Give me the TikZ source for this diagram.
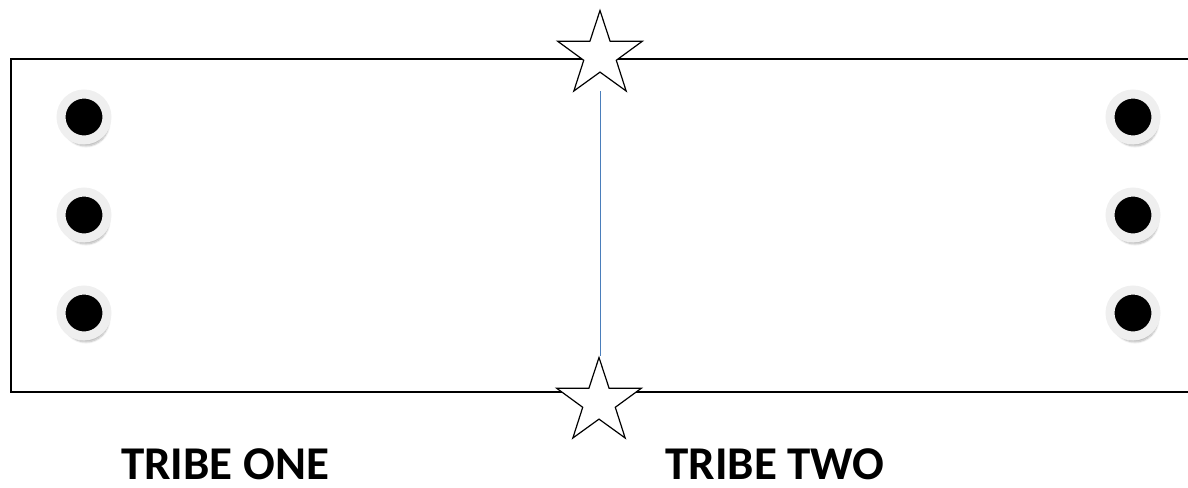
\documentclass[tikz,border=0pt]{standalone}
\usepackage{fontspec}
\setmainfont{Carlito}
\usetikzlibrary{shapes.geometric,shadows.blur}
\definecolor{ringgray}{HTML}{EFEFEF}
\definecolor{lineblue}{HTML}{4A7EBB}
\tikzset{
  dotnode/.style={circle, fill=black, minimum size=46pt, inner sep=0pt,
    draw=ringgray, line width=9pt,
    blur shadow={shadow xshift=2pt, shadow yshift=-6pt, shadow blur steps=8, shadow opacity=30}},
  starnode/.style={star, star points=5, star point ratio=2.6, minimum size=89pt,
    inner sep=0pt, draw=black, fill=white, line width=1.2pt},
  frame/.style={draw=black, line width=1.5pt},
  tribe/.style={font=\bfseries\fontsize{47}{54}\selectfont, anchor=base, inner sep=0pt},
}
\begin{document}
\begin{tikzpicture}[x=1pt, y=-1pt]
  \useasboundingbox (0,0) rectangle (1188,487);
  \draw[frame] (1200,59) -- (11,59) -- (11,392) -- (1200,392);
  \foreach \n/\y in {1/117, 2/215, 3/313} {
    \node[dotnode] (l\n) at (84,\y) {};
    \node[dotnode] (r\n) at (1133,\y) {};
  }
  \node[starnode] (ts) at (600,55) {};
  \node[starnode] (bs) at (599,402) {};
  \coordinate (lt) at (600,91);
  \draw[lineblue, line width=1pt] (lt) -- (lt |- bs.north);
  \node[tribe] (t1) at (225,479) {TRIBE ONE};
  \node[tribe] (t2) at (775,479) {TRIBE TWO};
\end{tikzpicture}
\end{document}
